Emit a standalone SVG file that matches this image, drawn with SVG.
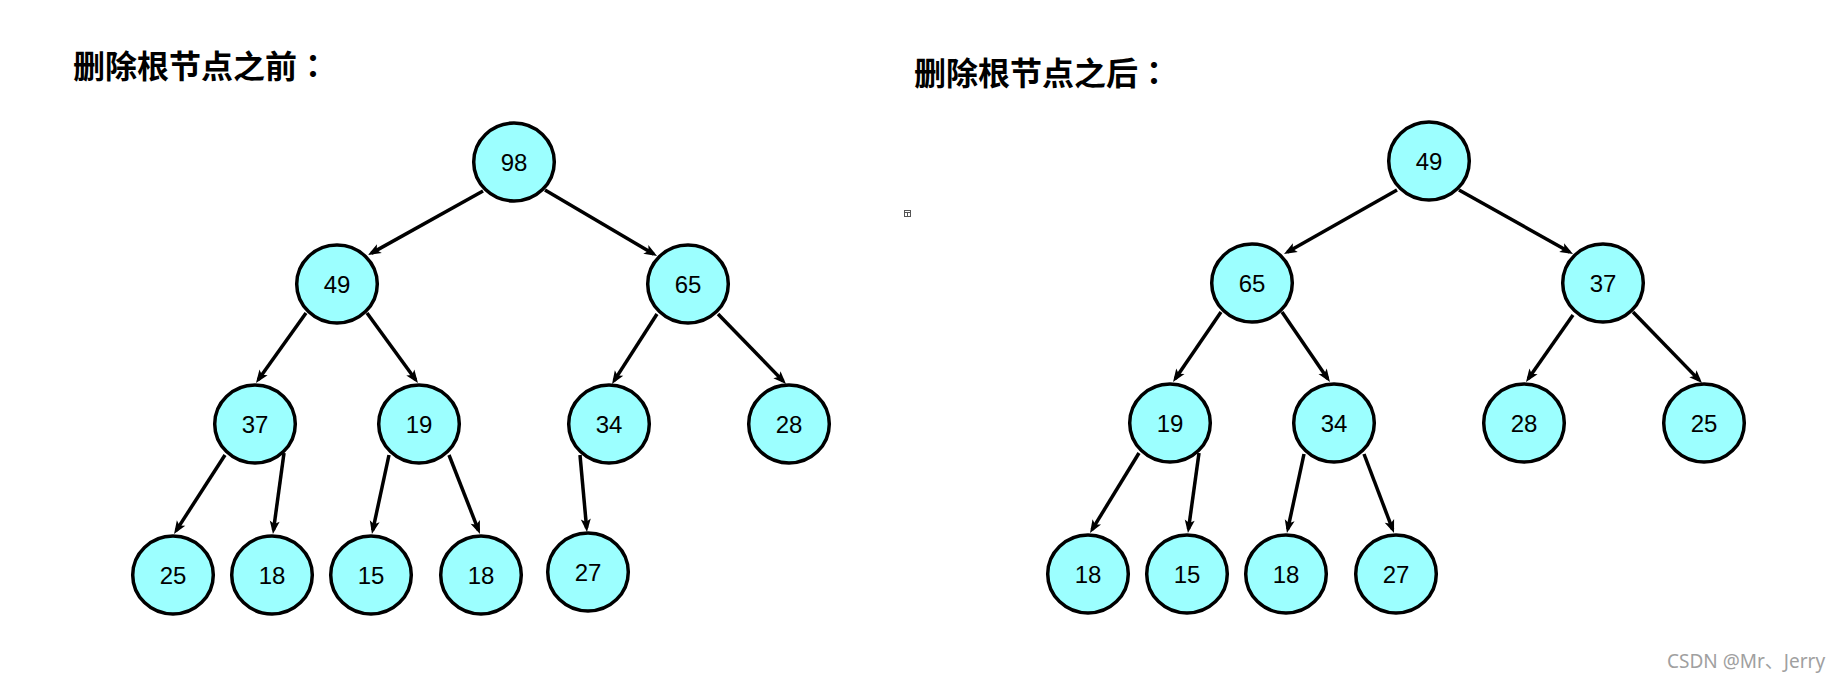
<svg xmlns="http://www.w3.org/2000/svg" width="1840" height="683" viewBox="0 0 1840 683">
<style>
.n ellipse{fill:#9cffff;stroke:#000;stroke-width:3.5}
.n text{font-family:"Liberation Sans",Arial,sans-serif;font-size:24px;text-anchor:middle;fill:#000}
.e line{stroke:#000;stroke-width:3.5;fill:none;marker-end:url(#ah)}
.title{font-family:"Noto Sans CJK SC","Noto Sans",sans-serif;font-size:32px;font-weight:bold;fill:#000}
.colon{font-family:"Noto Sans CJK TC","Noto Sans CJK SC",sans-serif}
.wm{font-family:"Noto Sans","Noto Sans CJK SC",sans-serif;font-size:19px;fill:#a0a0a0}
</style>
<defs>
<marker id="ah" markerUnits="userSpaceOnUse" markerWidth="13" markerHeight="10" refX="9" refY="5" orient="auto" overflow="visible">
<path d="M0,0 L13,5 L0,10 L3,5 z" fill="#000"/>
</marker>
</defs>
<rect width="1840" height="683" fill="#fff"/>
<text class="title" x="73" y="78">删除根节点之前<tspan class="colon">：</tspan></text>
<text class="title" x="914" y="85">删除根节点之后<tspan class="colon">：</tspan></text>
<g id="icon" fill="none" stroke="#555" stroke-width="1">
<rect x="904.5" y="210.5" width="6" height="6"/>
<line x1="904.5" y1="212.5" x2="910.5" y2="212.5"/>
<line x1="907.5" y1="212.5" x2="907.5" y2="216.5"/>
</g>
<g id="connectors" class="e">
<line x1="483" y1="191" x2="371.5" y2="253.1"/>
<line x1="545" y1="190" x2="653.6" y2="254"/>
<line x1="306" y1="313" x2="258.3" y2="379.7"/>
<line x1="367" y1="313" x2="415.6" y2="379.8"/>
<line x1="225" y1="455" x2="176.2" y2="530.6"/>
<line x1="284" y1="453" x2="273.5" y2="530"/>
<line x1="389" y1="455" x2="372.8" y2="530.1"/>
<line x1="449" y1="455" x2="478.5" y2="530.3"/>
<line x1="657" y1="314" x2="614.2" y2="380.6"/>
<line x1="718" y1="314" x2="783.2" y2="381.1"/>
<line x1="580" y1="455" x2="586.6" y2="528"/>
<line x1="1397" y1="190" x2="1287.5" y2="252"/>
<line x1="1459" y1="190" x2="1569.5" y2="252"/>
<line x1="1221" y1="312" x2="1175.3" y2="378.7"/>
<line x1="1282" y1="312" x2="1327.7" y2="378.7"/>
<line x1="1139" y1="453" x2="1092.1" y2="529.6"/>
<line x1="1199" y1="453" x2="1188.5" y2="529"/>
<line x1="1304" y1="454" x2="1287.8" y2="529.1"/>
<line x1="1364" y1="454" x2="1392.6" y2="529.3"/>
<line x1="1573" y1="315" x2="1528.3" y2="378.7"/>
<line x1="1633" y1="312" x2="1699.2" y2="380.1"/>
</g>
<g id="L98" class="n"><ellipse cx="514" cy="162" rx="40.3" ry="39"/><text x="514" y="171">98</text></g>
<g id="L49" class="n"><ellipse cx="337" cy="284" rx="40.3" ry="39"/><text x="337" y="293">49</text></g>
<g id="L65" class="n"><ellipse cx="688" cy="284" rx="40.3" ry="39"/><text x="688" y="293">65</text></g>
<g id="L37" class="n"><ellipse cx="255" cy="424" rx="40.3" ry="39"/><text x="255" y="433">37</text></g>
<g id="L19" class="n"><ellipse cx="419" cy="424" rx="40.3" ry="39"/><text x="419" y="433">19</text></g>
<g id="L34" class="n"><ellipse cx="609" cy="424" rx="40.3" ry="39"/><text x="609" y="433">34</text></g>
<g id="L28" class="n"><ellipse cx="789" cy="424" rx="40.3" ry="39"/><text x="789" y="433">28</text></g>
<g id="L25" class="n"><ellipse cx="173" cy="575" rx="40.3" ry="39"/><text x="173" y="584">25</text></g>
<g id="L18a" class="n"><ellipse cx="272" cy="575" rx="40.3" ry="39"/><text x="272" y="584">18</text></g>
<g id="L15" class="n"><ellipse cx="371" cy="575" rx="40.3" ry="39"/><text x="371" y="584">15</text></g>
<g id="L18b" class="n"><ellipse cx="481" cy="575" rx="40.3" ry="39"/><text x="481" y="584">18</text></g>
<g id="L27" class="n"><ellipse cx="588" cy="572" rx="40.3" ry="39"/><text x="588" y="581">27</text></g>
<g id="R49" class="n"><ellipse cx="1429" cy="161" rx="40.3" ry="39"/><text x="1429" y="170">49</text></g>
<g id="R65" class="n"><ellipse cx="1252" cy="283" rx="40.3" ry="39"/><text x="1252" y="292">65</text></g>
<g id="R37" class="n"><ellipse cx="1603" cy="283" rx="40.3" ry="39"/><text x="1603" y="292">37</text></g>
<g id="R19" class="n"><ellipse cx="1170" cy="423" rx="40.3" ry="39"/><text x="1170" y="432">19</text></g>
<g id="R34" class="n"><ellipse cx="1334" cy="423" rx="40.3" ry="39"/><text x="1334" y="432">34</text></g>
<g id="R28" class="n"><ellipse cx="1524" cy="423" rx="40.3" ry="39"/><text x="1524" y="432">28</text></g>
<g id="R25" class="n"><ellipse cx="1704" cy="423" rx="40.3" ry="39"/><text x="1704" y="432">25</text></g>
<g id="R18a" class="n"><ellipse cx="1088" cy="574" rx="40.3" ry="39"/><text x="1088" y="583">18</text></g>
<g id="R15" class="n"><ellipse cx="1187" cy="574" rx="40.3" ry="39"/><text x="1187" y="583">15</text></g>
<g id="R18b" class="n"><ellipse cx="1286" cy="574" rx="40.3" ry="39"/><text x="1286" y="583">18</text></g>
<g id="R27" class="n"><ellipse cx="1396" cy="574" rx="40.3" ry="39"/><text x="1396" y="583">27</text></g>
<text class="wm" x="1667" y="668">CSDN @Mr、Jerry</text>
</svg>
